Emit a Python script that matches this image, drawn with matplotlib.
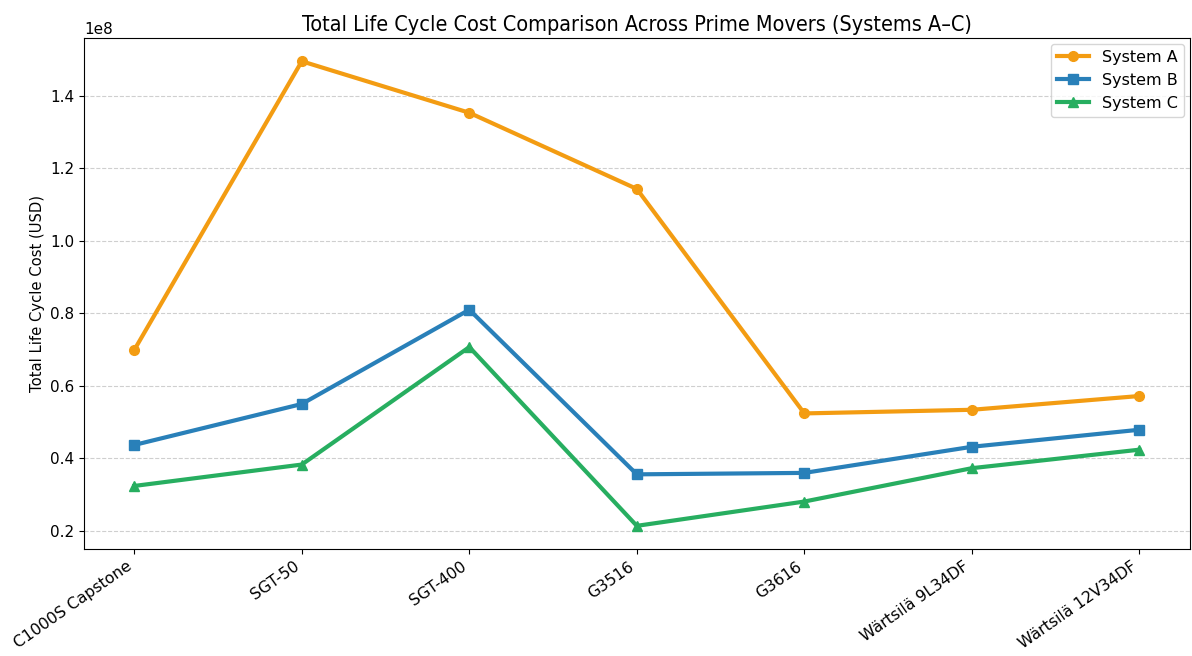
import matplotlib
matplotlib.use('Agg')
import matplotlib.pyplot as plt

# Prime movers and total life cycle cost (USD) per system
prime_movers = ['C1000S Capstone', 'SGT-50', 'SGT-400', 'G3516', 'G3616',
                'Wärtsilä 9L34DF', 'Wärtsilä 12V34DF']
system_a = [0.699e8, 1.495e8, 1.353e8, 1.143e8, 0.524e8, 0.534e8, 0.572e8]
system_b = [0.437e8, 0.550e8, 0.810e8, 0.356e8, 0.360e8, 0.432e8, 0.479e8]
system_c = [0.324e8, 0.383e8, 0.707e8, 0.214e8, 0.281e8, 0.373e8, 0.424e8]

fig, ax = plt.subplots(figsize=(11.92, 6.56), dpi=100)
fig.subplots_adjust(left=0.0705, right=0.998, top=0.942, bottom=0.163)

x = range(len(prime_movers))
ax.plot(x, system_a, marker='o', color='#f39c12', linewidth=3, markersize=7, label='System A')
ax.plot(x, system_b, marker='s', color='#2980b9', linewidth=3, markersize=7, label='System B')
ax.plot(x, system_c, marker='^', color='#27ae60', linewidth=3, markersize=7, label='System C')

ax.set_xticks(list(x))
ax.set_xticklabels(prime_movers, rotation=35, ha='right', fontsize=11.3)
ax.tick_params(axis='y', labelsize=11)
ax.set_ylabel('Total Life Cycle Cost (USD)', fontsize=10.6)
ax.set_title('Total Life Cycle Cost Comparison Across Prime Movers (Systems A–C)',
             fontsize=15.5, fontstretch='condensed', pad=5)
ax.yaxis.get_offset_text().set_fontsize(11)

ax.grid(axis='y', linestyle='--', alpha=0.6)
ax.legend(loc='upper right', fontsize=11.5, borderaxespad=0.35)

plt.savefig('out.png', dpi=100)
